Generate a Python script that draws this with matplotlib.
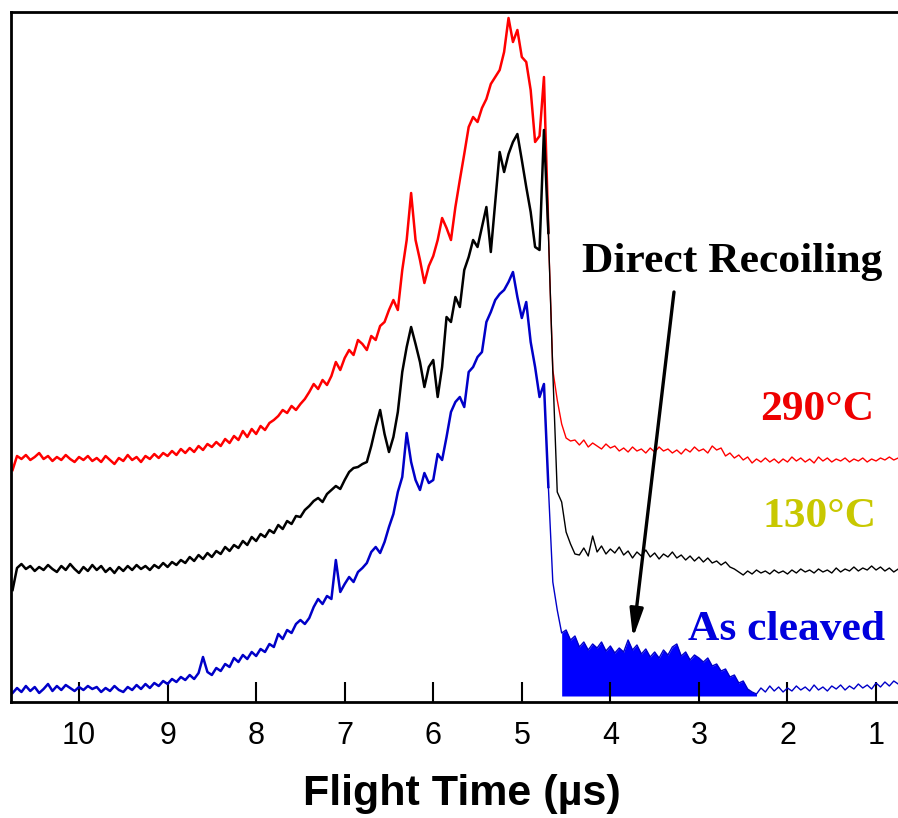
import numpy as np
import matplotlib
matplotlib.use('Agg')
import matplotlib.pyplot as plt

plt.rcParams['font.family'] = ['Liberation Sans', 'DejaVu Sans']

# Sampling grid of flight time (µs)
t_start, t_step = 10.75, 0.05

# Intensities (arbitrary units, vertically offset as in the figure)
red_290 = [232,246,243,247,242,245,249,243,246,241,
           245,242,247,243,240,245,242,246,241,244,
           240,246,242,238,244,241,247,242,245,240,
           246,243,248,244,249,246,251,247,253,249,
           254,250,256,252,258,255,260,256,263,259,
           266,262,271,265,273,268,276,272,279,282,
           286,292,289,296,292,298,303,310,318,313,
           322,317,326,340,332,344,352,347,362,358,
           352,366,362,376,380,392,402,392,432,462,
           509,462,442,419,436,446,462,484,474,462,
           495,522,548,575,585,580,594,603,618,625,
           632,650,684,660,672,645,640,612,560,566,
           625,470,332,302,278,264,261,262,257,262,
           255,259,256,253,258,254,256,251,254,250,
           255,251,253,249,254,250,255,251,253,249,
           252,248,253,250,255,251,253,249,256,252,
           254,246,249,244,247,242,245,239,243,240,
           244,240,243,239,243,240,245,241,244,240,
           243,239,245,241,244,240,243,241,244,240,
           243,241,244,240,243,241,244,242,245,242,
           244]

black_130 = [112,134,138,133,136,131,135,132,137,133,
             130,136,132,138,133,129,135,131,137,132,
             136,130,134,129,135,131,136,132,137,133,
             136,132,137,134,139,135,140,137,142,139,
             145,141,147,143,149,145,151,148,155,151,
             157,154,161,157,165,161,168,165,172,169,
             177,173,181,178,186,185,192,196,201,204,
             200,208,212,216,213,222,230,234,235,238,
             240,256,275,292,268,250,265,290,330,355,
             375,358,340,315,335,342,305,335,385,380,
             405,395,432,445,462,455,475,495,450,500,
             550,530,548,560,568,542,515,490,455,452,
             572,469,330,210,200,170,158,148,147,154,
             146,166,150,156,148,153,149,155,147,151,
             144,150,146,152,145,149,143,148,145,150,
             144,147,142,146,141,145,140,144,139,141,
             137,140,135,133,130,127,131,128,132,129,
             131,128,132,129,131,128,132,129,133,130,
             132,129,133,130,132,129,134,130,133,131,
             135,131,134,132,136,132,135,131,134,130,
             133]

blue_cleaved = [9,14,10,16,11,15,9,13,18,11,
                16,12,17,14,11,15,12,16,13,15,
                10,14,11,16,12,10,15,12,17,13,
                18,14,19,16,21,18,23,20,25,22,
                27,23,29,45,30,27,34,31,38,35,
                44,40,47,43,50,46,53,50,58,55,
                68,63,72,69,78,82,78,84,95,103,
                98,106,103,142,110,118,125,120,130,134,
                139,150,155,149,160,175,188,210,225,269,
                240,222,212,229,219,222,248,242,265,290,
                300,305,295,330,335,345,350,380,390,402,
                408,412,420,430,405,384,400,360,335,305,
                318,215,120,92,69,72,62,66,55,60,
                52,58,54,60,51,56,49,54,50,62,
                52,57,48,53,45,50,44,52,47,55,
                58,46,50,42,47,44,40,44,36,38,
                31,33,25,27,19,21,13,10,8,14,
                10,16,11,15,10,14,11,16,12,15,
                11,17,12,15,11,16,13,17,12,16,
                13,18,14,17,13,19,15,20,16,21,
                18]

xticks = [10, 9, 8, 7, 6, 5, 4, 3, 2, 1]
series_labels = ['290°C', '130°C', 'As cleaved']
annotation_text = 'Direct Recoiling'
xlabel_text = 'Flight Time (µs)'
dr_start, dr_end = 4.55, 2.35   # direct recoiling filled range

t = np.round(t_start - t_step * np.arange(len(red_290)), 3)
red = np.array(red_290, float)
black = np.array(black_130, float)
blue = np.array(blue_cleaved, float)

W, H = 898, 818
fig = plt.figure(figsize=(W / 100, H / 100), dpi=100)
ax = fig.add_axes([11 / W, (H - 702) / H, 891.8 / W, 690 / H])
ax.set_xlim(10.768, 0.698)
ax.set_ylim(0, 690)

split = 4.70
for y, c in [(red, '#ff0000'), (black, '#000000'), (blue, '#0000c8')]:
    m1 = t >= split - 1e-9
    m2 = t <= split + 1e-9
    ax.plot(t[m1], y[m1], color=c, lw=1.8)
    ax.plot(t[m2], y[m2], color=c, lw=1.0)

fm = (t <= dr_start + 1e-9) & (t >= dr_end - 1e-9)
ax.fill_between(t[fm], 6, blue[fm], color='#0000ff', lw=0)

ax.set_xticks(xticks)
ax.set_xticklabels([str(v) for v in xticks])
ax.set_yticks([])
ax.tick_params(axis='x', direction='in', length=14.4, width=1.5, pad=14,
               labelsize=22, top=False, colors='black')
for s in ['left', 'top', 'bottom']:
    ax.spines[s].set_linewidth(2.0)
ax.spines['right'].set_visible(False)

ax.set_xlabel(xlabel_text, fontsize=31, fontweight='bold')
ax.xaxis.set_label_coords(0.5057, -0.104)

serif = ['Liberation Serif', 'DejaVu Serif']
fs = 31.3
fig.text(582 / W, 1 - 272 / H, annotation_text, fontsize=fs, fontweight='bold',
         family=serif, color='black', ha='left', va='baseline')
fig.text(760 / W, 1 - 420 / H, series_labels[0], fontsize=fs, fontweight='bold',
         family=serif, color='#ee0000', ha='left', va='baseline')
fig.text(762 / W, 1 - 527 / H, series_labels[1], fontsize=fs, fontweight='bold',
         family=serif, color='#c8c800', ha='left', va='baseline')
fig.text(688 / W, 1 - 640 / H, series_labels[2], fontsize=fs, fontweight='bold',
         family=serif, color='#0000dd', ha='left', va='baseline')

ax.annotate('', xy=(633, H - 638), xycoords='figure pixels',
            xytext=(674, H - 292), textcoords='figure pixels',
            arrowprops=dict(arrowstyle='-|>,head_length=0.85,head_width=0.2',
                            color='black', lw=2.4, shrinkA=0, shrinkB=0,
                            mutation_scale=20))

fig.savefig('out.png', dpi=100)
